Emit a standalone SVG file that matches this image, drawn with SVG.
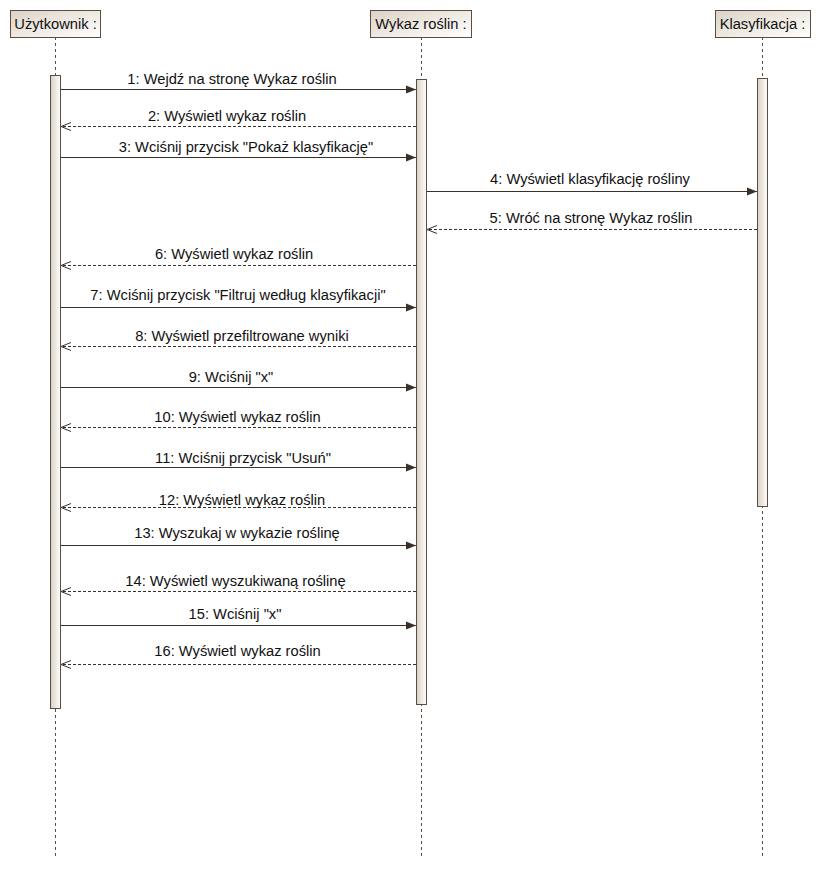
<svg xmlns="http://www.w3.org/2000/svg" width="820" height="869" viewBox="0 0 820 869">
<defs>
<linearGradient id="hg" x1="0" y1="0" x2="1" y2="1">
<stop offset="0" stop-color="#ddd3c6"/>
<stop offset="1" stop-color="#ffffff"/>
</linearGradient>
<linearGradient id="ag" x1="0" y1="0" x2="1" y2="0">
<stop offset="0" stop-color="#d9d0c4"/>
<stop offset="1" stop-color="#ffffff"/>
</linearGradient>
<marker id="solid" markerWidth="12" markerHeight="10" refX="11" refY="5" orient="auto" markerUnits="userSpaceOnUse">
<path d="M1,1 L11,5 L1,9 Z" fill="#3b3029"/>
</marker>
<marker id="open" markerWidth="12" markerHeight="10" refX="11" refY="5" orient="auto" markerUnits="userSpaceOnUse">
<path d="M1,1 L11,5 L1,9" fill="none" stroke="#3b3029" stroke-width="1"/>
</marker>
</defs>
<style>
.hdr{fill:url(#hg);stroke:#5b4d42;stroke-width:1}
.act{fill:url(#ag);stroke:#5b4d42;stroke-width:1}
.life{stroke:#5b4d42;stroke-width:1;stroke-dasharray:3,3;fill:none}
.call{stroke:#3b3029;stroke-width:1;fill:none;marker-end:url(#solid)}
.ret{stroke:#3b3029;stroke-width:1;stroke-dasharray:3,2;fill:none;marker-end:url(#open)}
text{font-family:"Liberation Sans",Arial,sans-serif;font-size:14.7px;fill:#111}
.lbl{text-anchor:middle}
</style>
<rect width="820" height="869" fill="#ffffff"/>
<g id="lifelines">
<line class="life" x1="55.5" y1="37" x2="55.5" y2="858"/>
<line class="life" x1="421.5" y1="37" x2="421.5" y2="858"/>
<line class="life" x1="762.5" y1="37" x2="762.5" y2="858"/>
</g>
<g id="uzytkownik">
<rect class="hdr" x="10.5" y="10.5" width="90" height="27"/>
<text x="55.5" y="29" class="lbl">Użytkownik :</text>
<rect class="act" x="50.5" y="75.5" width="10" height="633"/>
</g>
<g id="wykaz">
<rect class="hdr" x="370.5" y="10.5" width="101" height="27"/>
<text x="421" y="29" class="lbl">Wykaz roślin :</text>
<rect class="act" x="416.5" y="79.5" width="10" height="625"/>
</g>
<g id="klasyfikacja">
<rect class="hdr" x="715.5" y="10.5" width="95" height="27"/>
<text x="762.5" y="29" class="lbl">Klasyfikacja :</text>
<rect class="act" x="757.5" y="78.5" width="10" height="428"/>
</g>
<g id="connectors">
<line class="call" x1="61" y1="89.5" x2="416" y2="89.5"/>
<text x="232" y="83.5" class="lbl">1: Wejdź na stronę Wykaz roślin</text>
<line class="ret" x1="416" y1="126.5" x2="61" y2="126.5"/>
<text x="227" y="121" class="lbl">2: Wyświetl wykaz roślin</text>
<line class="call" x1="61" y1="157.5" x2="416" y2="157.5"/>
<text x="246" y="152" class="lbl">3: Wciśnij przycisk "Pokaż klasyfikację"</text>
<line class="call" x1="427" y1="191.5" x2="757" y2="191.5"/>
<text x="590" y="183.5" class="lbl">4: Wyświetl klasyfikację rośliny</text>
<line class="ret" x1="757" y1="229.5" x2="427" y2="229.5"/>
<text x="591" y="222.5" class="lbl">5: Wróć na stronę Wykaz roślin</text>
<line class="ret" x1="416" y1="265.5" x2="61" y2="265.5"/>
<text x="234" y="259" class="lbl">6: Wyświetl wykaz roślin</text>
<line class="call" x1="61" y1="307.5" x2="416" y2="307.5"/>
<text x="238" y="300" class="lbl">7: Wciśnij przycisk "Filtruj według klasyfikacji"</text>
<line class="ret" x1="416" y1="346.5" x2="61" y2="346.5"/>
<text x="242" y="340.5" class="lbl">8: Wyświetl przefiltrowane wyniki</text>
<line class="call" x1="61" y1="387.5" x2="416" y2="387.5"/>
<text x="231" y="381.5" class="lbl">9: Wciśnij "x"</text>
<line class="ret" x1="416" y1="427.5" x2="61" y2="427.5"/>
<text x="237.5" y="421.5" class="lbl">10: Wyświetl wykaz roślin</text>
<line class="call" x1="61" y1="467.5" x2="416" y2="467.5"/>
<text x="243" y="463" class="lbl">11: Wciśnij przycisk "Usuń"</text>
<line class="ret" x1="416" y1="507.5" x2="61" y2="507.5"/>
<text x="242" y="505" class="lbl">12: Wyświetl wykaz roślin</text>
<line class="call" x1="61" y1="545.5" x2="416" y2="545.5"/>
<text x="237" y="538" class="lbl">13: Wyszukaj w wykazie roślinę</text>
<line class="ret" x1="416" y1="591.5" x2="61" y2="591.5"/>
<text x="235.5" y="586" class="lbl">14: Wyświetl wyszukiwaną roślinę</text>
<line class="call" x1="61" y1="625.5" x2="416" y2="625.5"/>
<text x="235" y="619" class="lbl">15: Wciśnij "x"</text>
<line class="ret" x1="416" y1="664.5" x2="61" y2="664.5"/>
<text x="237.5" y="656" class="lbl">16: Wyświetl wykaz roślin</text>
</g>
</svg>
